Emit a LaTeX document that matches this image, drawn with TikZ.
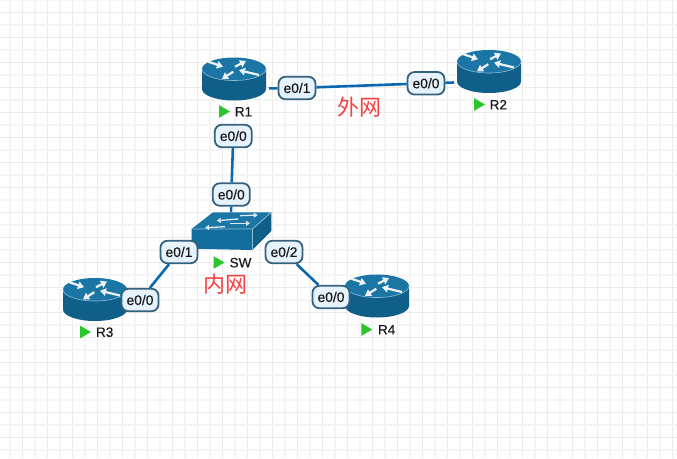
\documentclass[tikz,border=0pt]{standalone}
\usepackage{fontspec}
\setmainfont{Liberation Sans}
\newfontfamily\labelfont[FakeBold=0.35]{Liberation Sans}
\newfontfamily\cjk{Noto Sans CJK SC}
\usetikzlibrary{arrows.meta}
\definecolor{devblue}{HTML}{126C9C}
\definecolor{devtop}{HTML}{1B76A6}
\definecolor{devrim}{HTML}{8FBCD4}
\definecolor{linkblue}{HTML}{0A69AE}
\definecolor{ifborder}{HTML}{36627F}
\definecolor{iffill}{HTML}{E6F3FD}
\definecolor{runcol}{HTML}{2DC52D}
\definecolor{notered}{HTML}{F6403F}
\tikzset{
  minorgrid/.style={draw=black!4,line width=1.2pt},
  majorgrid/.style={draw=black!8,line width=1.2pt},
  ifnode/.style={draw=ifborder,line width=1.8pt,fill=iffill,rounded corners=7pt,
    minimum width=37pt,minimum height=22.5pt,inner sep=0pt,
    font=\labelfont\fontsize{13.8}{15}\selectfont,text=black!90},
  devnode/.style={minimum width=70pt,minimum height=20pt,inner sep=0pt,outer sep=0pt},
  swnode/.style={minimum width=80pt,minimum height=39pt,inner sep=0pt,outer sep=0pt},
  devlabel/.style={inner sep=0pt,font=\labelfont\fontsize{13.5}{15}\selectfont,text=black!90},
  notelabel/.style={inner sep=0pt,text=notered,font=\cjk\fontsize{22}{24}\selectfont},
  iconarrow/.style={draw=white!92!devblue,line width=2.2pt,-{Triangle[length=6pt,width=7.5pt]}},
  swarrow/.style={draw=white!85!devblue,line width=1.3pt,-{Triangle[length=4pt,width=5pt]}},
  router/.pic={
    \fill[devblue!88!black] (-32,-20) -- (-32,0) arc[start angle=180,end angle=360,x radius=32pt,y radius=11.5pt] -- (32,-20) -- cycle;
    \fill[devtop] (0,-20) ellipse[x radius=32pt,y radius=11.5pt];
    \draw[devrim,line width=.6pt] (-32,-20) arc[start angle=180,end angle=360,x radius=32pt,y radius=11.5pt];
    \draw[iconarrow] (-25.7,-27.3) -- (-11,-22.3);
    \draw[iconarrow] (1,-22.3) -- (12,-28);
    \draw[iconarrow] (-.7,-17.3) -- (-12,-10.2);
    \draw[iconarrow] (25,-14) -- (5,-18.8);
  },
  switch/.pic={
    \fill[devblue] (-39.5,-2.7) -- (21.5,-2.7) -- (21.5,18.3) -- (-39.5,17) -- cycle;
    \fill[devblue!88!black] (21.5,-2.7) -- (40.3,-19.4) -- (40.3,-.7) -- (21.5,18.3) -- cycle;
    \fill[devtop] (-39.5,-2.7) -- (-18,-19.4) -- (40.3,-19.4) -- (21.5,-2.7) -- cycle;
    \draw[devrim,line width=.8pt] (-39.5,-2.7) -- (21.5,-2.7) -- (40.3,-19.4) (21.5,-2.7) -- (21.5,18.3);
    \draw[swarrow] (7.3,-12.7) -- (-14.3,-11);
    \draw[swarrow] (9,-16) -- (26.7,-16.7);
    \draw[swarrow] (-6,-5) -- (-26,-4);
    \draw[swarrow] (-1,-8.4) -- (19,-8.4);
  },
  runmark/.pic={
    \fill[runcol] (-5.5,-6.4) -- (5.5,0) -- (-5.5,6.4) -- cycle;
  }
}
\begin{document}
\begin{tikzpicture}[x=1pt,y=-1pt]
  \useasboundingbox (0,0) rectangle (677,458);
  % background grid
  \foreach \k in {0,...,26}{
    \draw[minorgrid] ({10+25*\k},0) -- ({10+25*\k},458);
    \draw[majorgrid] ({22.7+25*\k},0) -- ({22.7+25*\k},458);
  }
  \foreach \k in {0,...,18}{
    \draw[minorgrid] (0,{25*\k}) -- (677,{25*\k});
    \draw[majorgrid] (0,{12.5+25*\k}) -- (677,{12.5+25*\k});
  }

  % devices
  \node[devnode] (R1) at (234,89) {};
  \node[devnode] (R2) at (489,81.5) {};
  \node[devnode] (R3) at (95,309.5) {};
  \node[devnode] (R4) at (377,306) {};
  \node[swnode] (SW) at (231,231.7) {};
  \pic at (R1) {router};
  \pic at (R2) {router};
  \pic at (R3) {router};
  \pic at (R4) {router};
  \pic at (SW) {switch};

  % interface labels
  \node[ifnode] (R1e1) at (297,88) {e0/1};
  \node[ifnode] (R1e0) at (233.3,136) {e0/0};
  \node[ifnode] (R2e0) at (426,83.3) {e0/0};
  \node[ifnode] (SWe0) at (231.3,194.5) {e0/0};
  \node[ifnode] (SWe1) at (179,252) {e0/1};
  \node[ifnode] (SWe2) at (284,252) {e0/2};
  \node[ifnode] (R3e0) at (140,300) {e0/0};
  \node[ifnode] (R4e0) at (331,297) {e0/0};

  % links
  \path[draw=linkblue,line width=2.6pt]
        (R1) edge (R1e1)
        (R1e1) edge (R2e0)
        (R2e0) edge (R2)
        (R1e0) edge (SWe0)
        (SWe0) edge (SW)
        (SWe1) edge (R3e0)
        (SWe2) edge (R4e0);

  % device names
  \pic at (224.5,111.5) {runmark};
  \node[devlabel] (R1t) at (243.5,111.7) {R1};
  \pic at (479.5,104.5) {runmark};
  \node[devlabel] (R2t) at (498.3,104.7) {R2};
  \pic at (85.5,332) {runmark};
  \node[devlabel] (R3t) at (104.7,332.2) {R3};
  \pic at (366.8,329.5) {runmark};
  \node[devlabel] (R4t) at (386.7,329.7) {R4};
  \pic at (219,262.5) {runmark};
  \node[devlabel] (SWt) at (240.5,262.7) {SW};

  % notes
  \node[notelabel] (wan) at (359,107.5) {外网};
  \node[notelabel] (lan) at (225,284.5) {内网};
\end{tikzpicture}
\end{document}
